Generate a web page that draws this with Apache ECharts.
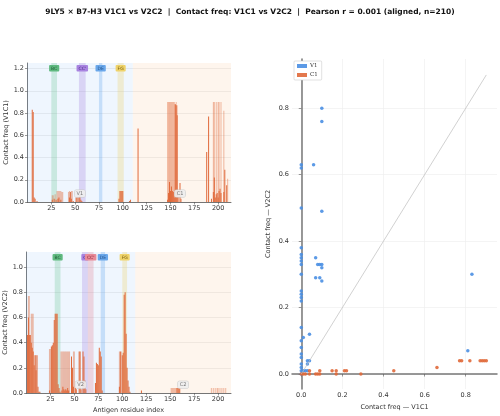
<!DOCTYPE html>
<html>
<head>
<meta charset="utf-8">
<script src="https://cdn.jsdelivr.net/npm/echarts@6/dist/echarts.min.js"></script>
<style>
html, body { margin: 0; padding: 0; background: #fff; }
#chart { width: 500px; height: 416px; }
</style>
</head>
<body>
<div id="chart"></div>
<script>
// [residue index, contact freq]
const v1c1Solid = [
    [5, 0.83], [6, 0.81], [7, 0.04], [8, 0.03], [10, 0.01],
    [26, 0.02], [28, 0.03], [30, 0.02], [32, 0.03], [33, 0.04], [35, 0.02],
    [44, 0.04], [45, 0.09], [46, 0.03], [48, 0.01],
    [51, 0.04], [52, 0.04], [54, 0.04], [55, 0.06], [56, 0.02], [57, 0.01],
    [96, 0.03], [97, 0.10], [98, 0.10], [99, 0.10], [100, 0.10],
    [107, 0.01], [108, 0.02], [116, 0.66],
    [147, 0.02], [148, 0.08], [149, 0.18], [150, 0.10], [151, 0.14], [152, 0.10], [153, 0.09],
    [154, 0.04], [155, 0.88], [156, 0.87], [157, 0.78], [158, 0.06], [160, 0.17], [161, 0.03],
    [188, 0.45], [190, 0.77], [193, 0.03], [195, 0.09], [196, 0.22], [197, 0.04], [198, 0.07],
    [199, 0.08], [200, 0.04], [201, 0.10], [202, 0.12], [203, 0.08], [206, 0.09], [207, 0.29], [209, 0.15]
];
const v1c1Pale = [
    [26, 0.06], [27, 0.06], [29, 0.07],
    [31, 0.10], [32, 0.10], [33, 0.10], [34, 0.10], [35, 0.10], [36, 0.09], [37, 0.09],
    [43, 0.09], [44, 0.10], [46, 0.10], [47, 0.10], [53, 0.06],
    [147, 0.90], [148, 0.90], [149, 0.90], [150, 0.90], [151, 0.90], [152, 0.90], [153, 0.90],
    [154, 0.90], [155, 0.88], [156, 0.90], [157, 0.87],
    [195, 0.90], [196, 0.90], [198, 0.90], [200, 0.90], [201, 0.90], [203, 0.90],
    [206, 0.82], [210, 0.21]
];
const v2c2Solid = [
    [1, 0.46], [2, 0.60], [3, 0.46], [4, 0.46], [5, 0.40], [6, 0.36], [7, 0.33], [8, 0.22],
    [9, 0.30], [10, 0.18], [11, 0.30], [12, 0.05], [13, 0.01], [14, 0.01],
    [24, 0.02], [26, 0.37], [27, 0.38], [28, 0.40], [29, 0.58], [30, 0.63], [31, 0.63], [32, 0.63],
    [33, 0.07], [34, 0.04], [35, 0.01],
    [37, 0.02], [38, 0.05], [39, 0.03], [40, 0.02], [41, 0.03], [42, 0.02], [43, 0.04], [44, 0.02],
    [47, 0.29], [48, 0.20], [49, 0.05], [51, 0.04], [52, 0.03], [55, 0.33], [56, 0.33], [57, 0.03],
    [59, 0.33], [60, 0.29], [61, 0.10], [62, 0.03],
    [72, 0.08], [73, 0.24], [74, 0.23], [75, 0.22], [76, 0.36], [77, 0.33], [78, 0.29], [79, 0.02],
    [97, 0.05], [98, 0.33], [100, 0.30], [101, 0.32], [102, 0.78], [103, 0.80], [104, 0.47],
    [105, 0.20], [106, 0.10], [107, 0.05], [108, 0.01],
    [120, 0.02], [157, 0.04], [158, 0.04], [159, 0.04], [160, 0.04]
];
const v2c2Pale = [
    [2, 0.77], [3, 0.77], [5, 0.63], [6, 0.63], [7, 0.63], [9, 0.30], [10, 0.30],
    [24, 0.35], [25, 0.35],
    [36, 0.33], [37, 0.33], [38, 0.33], [39, 0.33], [40, 0.33], [41, 0.33], [42, 0.33], [43, 0.33],
    [44, 0.33], [45, 0.33], [49, 0.33], [50, 0.33],
    [97, 0.33], [99, 0.33],
    [151, 0.04], [152, 0.04], [153, 0.04], [154, 0.04], [155, 0.04], [156, 0.04],
    [193, 0.04], [195, 0.04], [197, 0.04], [199, 0.04], [200, 0.04], [202, 0.04], [204, 0.04],
    [206, 0.04], [208, 0.04]
];

// [V1C1 freq, V2C2 freq]
const v1Points = [
    [0, 0.63], [0, 0.62], [0.06, 0.63], [0.10, 0.80], [0.10, 0.76], [0, 0.50], [0.10, 0.49],
    [0, 0.38], [0, 0.36], [0, 0.35], [0, 0.34], [0, 0.33], [0, 0.30],
    [0.07, 0.35], [0.08, 0.33], [0.09, 0.33], [0.10, 0.33], [0.10, 0.32], [0.07, 0.29], [0.09, 0.29], [0.10, 0.28],
    [0, 0.25], [0, 0.24], [0, 0.23], [0, 0.22], [0, 0.14], [0.01, 0.11], [0.04, 0.12],
    [0, 0.10], [0, 0.08], [0, 0.06], [0, 0.05], [0, 0.03], [0, 0.02], [0, 0.01],
    [0.03, 0.03], [0.04, 0.04], [0.03, 0.04], [0.02, 0.01], [0.01, 0.01], [0.03, 0.01], [0, 0],
    [0.83, 0.30], [0.81, 0.07]
];
const c1Points = [
    [0, 0], [0.01, 0], [0.02, 0], [0.04, 0.01], [0.04, 0], [0.07, 0], [0.08, 0], [0.09, 0.01], [0.09, 0],
    [0.15, 0.01], [0.17, 0.01], [0.17, 0], [0.21, 0.01], [0.22, 0.01], [0.29, 0], [0.45, 0.01],
    [0.66, 0.02], [0.77, 0.04], [0.78, 0.04], [0.82, 0.04], [0.87, 0.04], [0.88, 0.04], [0.89, 0.04], [0.90, 0.04]
];

const residueTicks = [25, 50, 75, 100, 125, 150, 175, 200];
const freqTicksTop = [0, 0.2, 0.4, 0.6, 0.8, 1.0, 1.2];
const freqTicksBottom = [0, 0.2, 0.4, 0.6, 0.8, 1.0];
const scatterTicks = [0, 0.2, 0.4, 0.6, 0.8];

// loop ranges [name, start, end]
const loopsTop = [['BC', 25, 31], ["CC'", 54, 61], ['DE', 75, 78.5], ['FG', 94.5, 101]];
const loopsBottom = [['BC', 29.5, 35.5], ['C', 58, 64], ["CC'", 64, 70], ['DE', 77.5, 82], ['FG', 100, 105]];
const domainSplitTop = 110.5;
const domainSplitBottom = 113.5;

const FONT = 'DejaVu Sans';
const ORANGE = '#e0693a';
const loopColors = {
    'BC': ['rgba(70,180,120,0.22)', '#5fb97f', '#1f5e37'],
    'C': ['rgba(150,110,220,0.25)', '#a883e0', '#4b2a86'],
    "CC'": ['rgba(150,110,220,0.25)', '#a883e0', '#4b2a86'],
    'DE': ['rgba(70,150,235,0.25)', '#6aa7ea', '#1d4f8a'],
    'FG': ['rgba(235,205,80,0.25)', '#efd36a', '#7a6010']
};
const bottomLoopColors = Object.assign({}, loopColors, {
    "CC'": ['rgba(225,110,130,0.25)', '#e88a98', '#8a2233']
});

const chart = echarts.init(document.getElementById('chart'));

function loopAreas (loops, colors, split, xmin, xmax) {
    let areas = [
        [{xAxis: xmin, itemStyle: {color: 'rgba(110,170,245,0.11)'}}, {xAxis: split}],
        [{xAxis: split, itemStyle: {color: 'rgba(250,170,110,0.12)'}}, {xAxis: xmax}]
    ];
    for (let i = 0; i < loops.length; i++) {
        let c = colors[loops[i][0]];
        areas.push([{
            name: loops[i][0],
            xAxis: loops[i][1],
            itemStyle: {color: c[0]},
            label: {
                show: true,
                position: 'insideTop',
                distance: 2,
                fontSize: 4.5,
                fontFamily: FONT,
                color: c[2],
                backgroundColor: c[1],
                borderRadius: 1,
                padding: [1, 2, 0.5, 2]
            }
        }, {xAxis: loops[i][2]}]);
    }
    return areas;
}

function domainTag (name, x, y) {
    return {
        name: name,
        coord: [x, y],
        symbol: 'rect',
        symbolSize: 1,
        itemStyle: {color: 'rgba(0,0,0,0)'},
        label: {
            show: true,
            formatter: name,
            fontSize: 5,
            fontFamily: FONT,
            color: '#777',
            backgroundColor: 'rgba(238,238,238,0.9)',
            borderColor: '#ccc',
            borderWidth: 0.5,
            borderRadius: 1.5,
            padding: [1, 2]
        }
    };
}

function residueAxis (grid, name) {
    return {
        type: 'value',
        gridIndex: grid,
        min: -0.5,
        max: 213.5,
        name: name,
        nameLocation: 'middle',
        nameGap: 14,
        nameTextStyle: {fontSize: 6.5, fontFamily: FONT, color: '#333'},
        axisLine: {show: true, lineStyle: {color: '#555', width: 0.8}},
        axisTick: {show: true, length: 2.5, lineStyle: {color: '#555', width: 0.6}, customValues: residueTicks},
        axisLabel: {fontSize: 6.5, fontFamily: FONT, color: '#333', margin: 3, customValues: residueTicks},
        splitLine: {show: false}
    };
}

function freqAxis (grid, name, max, ticks) {
    return {
        type: 'value',
        gridIndex: grid,
        min: 0,
        max: max,
        name: name,
        nameLocation: 'middle',
        nameGap: 17,
        nameTextStyle: {fontSize: 6.5, fontFamily: FONT, color: '#333'},
        axisLine: {show: true, lineStyle: {color: '#555', width: 0.8}},
        axisTick: {show: true, length: 2.5, lineStyle: {color: '#555', width: 0.6}, customValues: ticks},
        axisLabel: {
            fontSize: 6.5, fontFamily: FONT, color: '#333', margin: 3, customValues: ticks,
            formatter: function (v) { return v.toFixed(1); }
        },
        splitLine: {show: true, lineStyle: {color: '#e4e4e4', width: 0.6}}
    };
}

function scatterAxis (grid, name, min, max) {
    return {
        type: 'value',
        gridIndex: grid,
        min: min,
        max: max,
        name: name,
        nameLocation: 'middle',
        nameGap: 15,
        nameTextStyle: {fontSize: 6.5, fontFamily: FONT, color: '#333'},
        axisLine: {show: true, lineStyle: {color: '#777', width: 1.5}},
        axisTick: {show: true, length: 2.5, lineStyle: {color: '#555', width: 0.6}, customValues: scatterTicks},
        axisLabel: {
            fontSize: 6.5, fontFamily: FONT, color: '#333', margin: 3, customValues: scatterTicks,
            formatter: function (v) { return v.toFixed(1); }
        },
        splitLine: {show: true, lineStyle: {color: '#ececec', width: 0.6}}
    };
}

const barBase = {
    type: 'bar',
    barWidth: 0.8,
    barGap: '-100%',
    silent: true,
    animation: false
};

chart.setOption({
    backgroundColor: '#fff',
    animation: false,
    title: {
        text: '9LY5 × B7-H3 V1C1 vs V2C2  |  Contact freq: V1C1 vs V2C2  |  Pearson r = 0.001 (aligned, n=210)',
        left: 'center',
        top: 3,
        textStyle: {fontSize: 7.5, fontWeight: 'bold', fontFamily: FONT, color: '#111'}
    },
    legend: {
        data: ['V1', 'C1'],
        orient: 'vertical',
        left: 294,
        top: 61,
        padding: [2, 4, 2, 3],
        itemGap: 3,
        itemWidth: 10,
        itemHeight: 4,
        icon: 'rect',
        borderColor: '#ccc',
        borderWidth: 0.6,
        borderRadius: 1,
        backgroundColor: '#fff',
        textStyle: {fontSize: 5.5, fontFamily: 'DejaVu Serif', color: '#333', padding: [0, 0, 0, -2]}
    },
    grid: [
        {left: 27, top: 63, width: 204, height: 139},
        {left: 26, top: 252, width: 205, height: 141},
        {left: 292, top: 59, width: 205, height: 334}
    ],
    xAxis: [
        residueAxis(0, ''),
        residueAxis(1, 'Antigen residue index'),
        scatterAxis(2, 'Contact freq — V1C1', -0.045, 0.952)
    ],
    yAxis: [
        freqAxis(0, 'Contact freq (V1C1)', 1.25, freqTicksTop),
        freqAxis(1, 'Contact freq (V2C2)', 1.12, freqTicksBottom),
        Object.assign(scatterAxis(2, 'Contact freq — V2C2', -0.045, 0.948), {nameGap: 20})
    ],
    series: [
        Object.assign({}, barBase, {
            name: 'v1c1 pale',
            xAxisIndex: 0,
            yAxisIndex: 0,
            data: v1c1Pale,
            itemStyle: {color: 'rgba(224,105,58,0.45)'},
            markArea: {silent: true, data: loopAreas(loopsTop, loopColors, domainSplitTop, -0.5, 213.5)}
        }),
        Object.assign({}, barBase, {
            name: 'v1c1',
            xAxisIndex: 0,
            yAxisIndex: 0,
            data: v1c1Solid,
            itemStyle: {color: ORANGE},
            markPoint: {silent: true, data: [domainTag('V1', 55, 0.076), domainTag('C1', 160, 0.076)]}
        }),
        Object.assign({}, barBase, {
            name: 'v2c2 pale',
            xAxisIndex: 1,
            yAxisIndex: 1,
            data: v2c2Pale,
            itemStyle: {color: 'rgba(224,105,58,0.45)'},
            markArea: {silent: true, data: loopAreas(loopsBottom, bottomLoopColors, domainSplitBottom, -0.5, 213.5)}
        }),
        Object.assign({}, barBase, {
            name: 'v2c2',
            xAxisIndex: 1,
            yAxisIndex: 1,
            data: v2c2Solid,
            itemStyle: {color: ORANGE},
            markPoint: {silent: true, data: [domainTag('V2', 56.5, 0.066), domainTag('C2', 163.5, 0.066)]}
        }),
        {
            name: 'diag',
            type: 'line',
            xAxisIndex: 2,
            yAxisIndex: 2,
            data: [[0, 0], [0.9, 0.9]],
            symbol: 'none',
            silent: true,
            lineStyle: {color: '#bdbdbd', width: 0.7}
        },
        {
            name: 'V1',
            type: 'scatter',
            xAxisIndex: 2,
            yAxisIndex: 2,
            data: v1Points,
            symbolSize: 3.5,
            itemStyle: {color: '#4a8fe3', opacity: 0.9}
        },
        {
            name: 'C1',
            type: 'scatter',
            xAxisIndex: 2,
            yAxisIndex: 2,
            data: c1Points,
            symbolSize: 3.5,
            itemStyle: {color: '#e0693a', opacity: 0.9}
        }
    ]
});
</script>
</body>
</html>
